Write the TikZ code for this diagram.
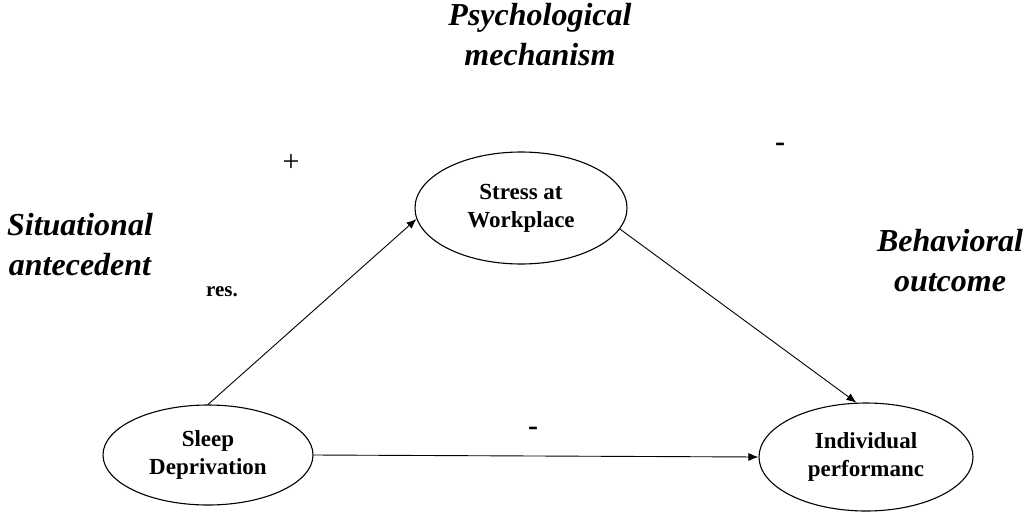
\documentclass[tikz,border=0pt]{standalone}
\usepackage{fontspec}
\setmainfont{Liberation Serif}
\usetikzlibrary{shapes.geometric,arrows.meta}

\begin{document}
\begin{tikzpicture}[x=1pt, y=-1pt,
    construct/.style={ellipse, draw, line width=1.1pt, inner sep=0pt, align=center, font=\fontsize{23}{28}\selectfont\bfseries},
    heading/.style={align=center, font=\fontsize{32}{40}\selectfont\bfseries\itshape},
    sign/.style={font=\fontsize{30}{30}\selectfont\bfseries},
    link/.style={-{Latex[length=10pt,width=8pt]}, line width=0.9pt}
]
    \useasboundingbox (0,0) rectangle (1030,514);

    % headings
    \node[heading] (hmech) at (540,35) {Psychological\\mechanism};
    \node[heading] (hsit) at (80,245) {Situational\\antecedent};
    \node[heading] (hbeh) at (950,261) {Behavioral\\outcome};

    % constructs
    \node[construct, minimum width=212pt, minimum height=112pt] (stress) at (521,208) {Stress at\\Workplace};
    \node[construct, minimum width=210pt, minimum height=100pt] (sleep) at (208,455) {Sleep\\Deprivation};
    \node[construct, minimum width=214pt, minimum height=108pt] (perf) at (866,457) {Individual\\performanc};

    \draw[link] (sleep.north) -- (stress.186);
    \draw[link] (stress.-12) -- (perf.100);
    \draw[link] (sleep.east) -- (perf.west);

    % signs and notes
    \node[font=\fontsize{30}{30}\selectfont] (plus) at (291,163) {+};
    \node[sign] (minustop) at (780,147) {-};
    \node[sign] (minusbot) at (533,431) {-};
    \node[font=\fontsize{21}{24}\selectfont\bfseries] (res) at (222,292) {res.};
\end{tikzpicture}
\end{document}
